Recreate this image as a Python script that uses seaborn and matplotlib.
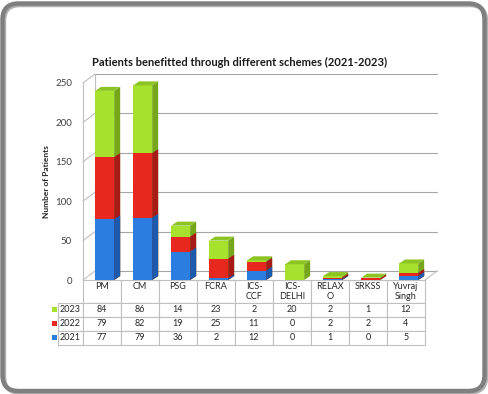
import numpy as np
import pandas as pd
import seaborn as sns
import matplotlib
matplotlib.use('Agg')
import matplotlib.pyplot as plt
from matplotlib.patches import Polygon, FancyBboxPatch, Rectangle
from matplotlib.transforms import IdentityTransform

# data
schemes = ['PM', 'CM', 'PSG', 'FCRA', 'ICS-\nCCF', 'ICS-\nDELHI', 'RELAX\nO', 'SRKSS', 'Yuvraj\nSingh']
years = ['2023', '2022', '2021']
v2021 = [77, 79, 36, 2, 12, 0, 1, 0, 5]
v2022 = [79, 82, 19, 25, 11, 0, 2, 2, 4]
v2023 = [84, 86, 14, 23, 2, 20, 2, 1, 12]

# front / side / top colours per year
col_front = {'2023': '#a6e12d', '2022': '#e8271f', '2021': '#2b7de0'}
col_side = {'2023': '#76a71b', '2022': '#a61b15', '2021': '#1c5aae'}
col_top = '#8cc423'

df = pd.DataFrame({'scheme': schemes, '2021': v2021, '2022': v2022, '2023': v2023})
df['c2021'] = df['2021']
df['c2022'] = df['2021'] + df['2022']
df['c2023'] = df['c2022'] + df['2023']

sns.set_style('white')
plt.rcParams['font.family'] = ['Lato', 'DejaVu Sans']

W, H = 489, 394
fig = plt.figure(figsize=(W / 100, H / 100), dpi=100)

# plot area in pixels (front plane)
ax_l, ax_r, ax_t, ax_b = 83, 425, 83, 280
ax = fig.add_axes([ax_l / W, 1 - ax_b / H, (ax_r - ax_l) / W, (ax_b - ax_t) / H])
ymax = 250
ax_wpx, ax_hpx = ax_r - ax_l, ax_b - ax_t
px_per_unit = ax_hpx / ymax
xmin, xmax = -0.57, 8.43
px_per_cat = ax_wpx / (xmax - xmin)

# depth offsets for the fake 3d look
bar_dx = 6 / px_per_cat
bar_dy = 4 / px_per_unit
wall_dx = 12 / ax_wpx
wall_dy = 9 / px_per_unit

# back wall grid and floor
gc = '#a6a6a6'
ticks = list(range(0, 251, 50))
yt = ax.get_yaxis_transform()
for v in ticks:
    ax.plot([wall_dx, 1 + wall_dx], [v + wall_dy, v + wall_dy], color=gc, lw=0.8, transform=yt, clip_on=False, zorder=0)
    ax.plot([0, wall_dx], [v, v + wall_dy], color='#bfbfbf', lw=0.8, transform=yt, clip_on=False, zorder=0)
ax.plot([0, 0], [0, ymax], color='#bfbfbf', lw=0.8, transform=yt, clip_on=False, zorder=0)
ax.plot([wall_dx, wall_dx], [wall_dy, ymax + wall_dy], color='#bfbfbf', lw=0.8, transform=yt, clip_on=False, zorder=0)
ax.plot([1, 1 + wall_dx], [0, wall_dy], color='#bfbfbf', lw=0.8, transform=yt, clip_on=False, zorder=0)

# stacked bars drawn as overlapping cumulative bars
for i, yr in enumerate(['2023', '2022', '2021']):
    n0 = len(ax.patches)
    sns.barplot(data=df, x='scheme', y='c' + yr, color=col_front[yr], saturation=1,
                width=0.5, errorbar=None, linewidth=0, ax=ax, zorder=2 + i)
    for p in ax.patches[n0:]:
        x0, y0 = p.get_x(), p.get_y()
        x1, y1 = x0 + p.get_width(), y0 + p.get_height()
        if p.get_height() <= 0:
            continue
        side = Polygon([(x1, y0), (x1 + bar_dx, y0 + bar_dy), (x1 + bar_dx, y1 + bar_dy), (x1, y1)],
                       closed=True, facecolor=col_side[yr], edgecolor='none', zorder=2 + i, clip_on=False)
        ax.add_patch(side)
        if yr == '2023':
            top = Polygon([(x0, y1), (x1, y1), (x1 + bar_dx, y1 + bar_dy), (x0 + bar_dx, y1 + bar_dy)],
                          closed=True, facecolor=col_top, edgecolor='none', zorder=2 + i, clip_on=False)
            ax.add_patch(top)

ax.set_xlim(xmin, xmax)
ax.set_ylim(0, ymax)
ax.set_xticks([])
ax.set_xlabel('')
ax.set_yticks(ticks)
ax.tick_params(axis='y', length=0, pad=8, labelsize=7, labelcolor='#404040')
for s in ax.spines.values():
    s.set_visible(False)
ax.set_ylabel('Number of Patients', fontsize=6, fontweight='bold')
ax.yaxis.set_label_coords((50 - ax_l) / ax_wpx, 0.5)

# data table under the bars
head_h, row_h = 23, 14
tab_h = (head_h + 3 * row_h) / ax_hpx
col_labels = [s if '\n' in s else s + '\n' for s in schemes]
cell_text = [[str(v) for v in df[yr]] for yr in years]
tab = ax.table(cellText=cell_text, rowLabels=years, colLabels=col_labels,
               colWidths=[1 / len(schemes)] * len(schemes), cellLoc='center', rowLoc='right',
               bbox=[0, -tab_h, 1, tab_h])
tab.auto_set_font_size(False)
tab.set_fontsize(6.5)
lab_w = 35 / ax_wpx
for (r, c), cell in tab.get_celld().items():
    cell.set_edgecolor('#bfbfbf')
    cell.set_linewidth(0.8)
    cell.get_text().set_color('#262626')
    cell.set_height(head_h if r == 0 else row_h)
    if c == -1:
        cell.set_width(lab_w)

# legend keys in the row labels
sq = 5
for k, yr in enumerate(years):
    yc = -(head_h + row_h * k + row_h / 2 - 1) / ax_hpx
    key = Rectangle(((52 - ax_l) / ax_wpx, yc - sq / 2 / ax_hpx), sq / ax_wpx, sq / ax_hpx,
                    facecolor=col_front[yr], edgecolor='none', transform=ax.transAxes,
                    clip_on=False, zorder=10)
    ax.add_patch(key)

fig.text(240 / W, 1 - 62 / H, 'Patients benefitted through different schemes (2021-2023)',
         ha='center', va='center', fontsize=8, fontweight='bold', color='#1a1a1a')

# rounded grey frame with a soft shadow
shadow = FancyBboxPatch((4, 1.5), W - 7, H - 6.5, boxstyle='round,pad=0,rounding_size=16',
                        transform=IdentityTransform(), facecolor='none', edgecolor='#b0b0b0', lw=3.2)
fig.add_artist(shadow)
frame = FancyBboxPatch((2.5, 3), W - 7, H - 6.5, boxstyle='round,pad=0,rounding_size=16',
                       transform=IdentityTransform(), facecolor='none', edgecolor='#7f7f7f', lw=3.2)
fig.add_artist(frame)

fig.savefig('out.png', dpi=100)
